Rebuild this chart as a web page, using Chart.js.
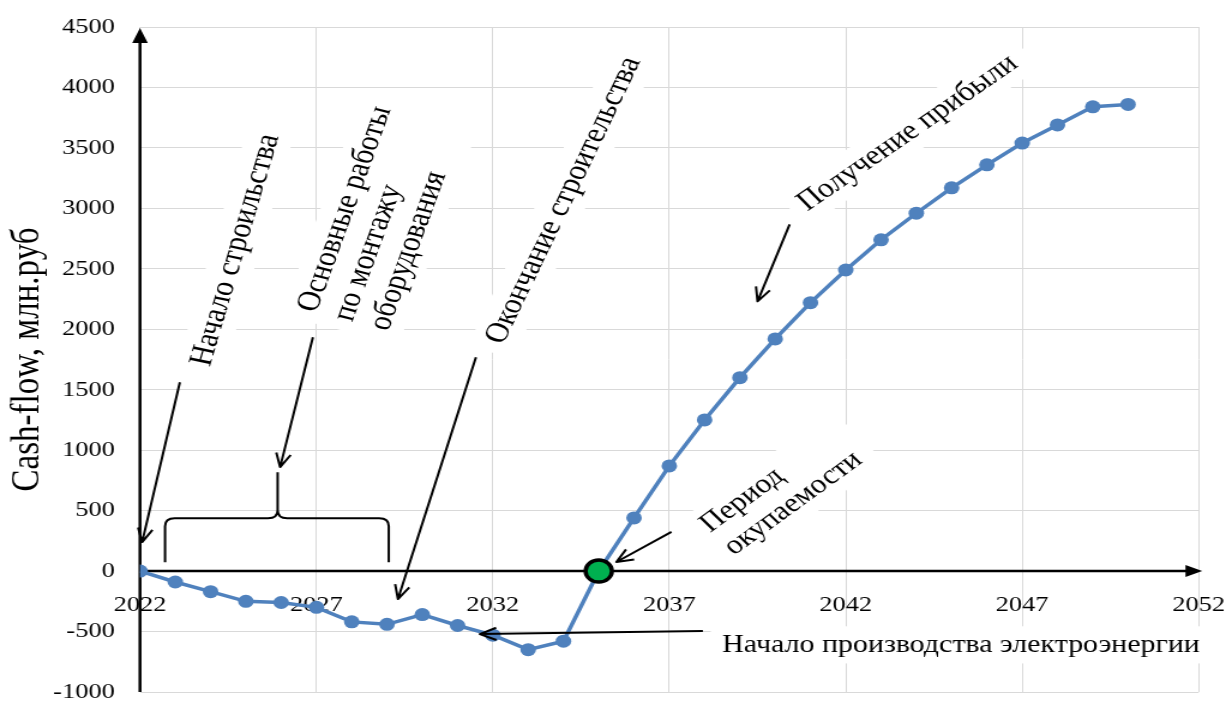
<!DOCTYPE html>
<html>
<head>
<meta charset="utf-8">
<script src="https://cdn.jsdelivr.net/npm/chart.js@4.4.0/dist/chart.umd.min.js"></script>
<style>
  html, body { margin: 0; padding: 0; background: #fff; overflow: hidden; }
  /* the figure is drawn narrow and widened as a whole */
  #wrap { width: 1027px; height: 702px; transform: scaleX(1.1996); transform-origin: 0 0; }
</style>
</head>
<body>
<div id="wrap"><canvas id="graphic" width="1027" height="702"></canvas></div>
<script>
var years = [2022, 2023, 2024, 2025, 2026, 2027, 2028, 2029, 2030, 2031,
             2032, 2033, 2034, 2035, 2036, 2037, 2038, 2039, 2040, 2041,
             2042, 2043, 2044, 2045, 2046, 2047, 2048, 2049, 2050];
var cashFlow = [0, -90, -170, -250, -260, -300, -420, -440, -360, -450,
                -530, -650, -580, 0, 440, 870, 1250, 1600, 1920, 2220,
                2490, 2740, 2960, 3170, 3360, 3540, 3690, 3840, 3860];
var paybackYear = [2035];
var paybackValue = [0];
var xTicks = [2022, 2027, 2032, 2037, 2042, 2047, 2052];
var yTicks = [-1000, -500, 0, 500, 1000, 1500, 2000, 2500, 3000, 3500, 4000, 4500];

var SERIF = "'Liberation Serif', 'Times New Roman', serif";

// captions: start of first line in data units, angle in degrees
var notes = [
    { lines: ['Начало строильства'], x: 2023.73, y: 1700, angle: 76, size: 28, sx: 1 },
    { lines: ['Основные работы', 'по монтажу', 'оборудования'], x: 2026.75, y: 2150, angle: 73, size: 28, sx: 1 },
    { lines: ['Окончание строительства'], x: 2032.05, y: 1890, angle: 68, size: 28, sx: 1 },
    { lines: ['Получение прибыли'], x: 2040.75, y: 3020, angle: 39.5, size: 28, sx: 0.94 },
    { lines: ['Период', 'окупаемости'], x: 2038.0, y: 360, angle: 41, size: 27, sx: 0.97 },
    { lines: ['Начало производства электроэнергии'], x: 2038.5, y: -610, angle: 0, size: 26, sx: 0.96 }
];

// pointer arrows: [fromX, fromY, toX, toY] in data units
var pointers = [
    [2023.13, 1562, 2022.06, 240],
    [2026.90, 1934, 2025.97, 860],
    [2031.52, 1768, 2029.31, -231],
    [2040.41, 2868, 2039.50, 2231],
    [2037.06, 325, 2035.50, 75],
    [2037.95, -496, 2031.63, -521]
];

// curly brace over the construction years
var brace = { left: 2022.71, right: 2029.05, mid: 2025.9, bar: 438, foot: 74, tip: 818 };

function arrowLine(ctx, x1, y1, x2, y2, head) {
    var a = Math.atan2(y2 - y1, x2 - x1);
    ctx.beginPath();
    ctx.moveTo(x1, y1);
    ctx.lineTo(x2, y2);
    ctx.moveTo(x2 - head * Math.cos(a - 0.42), y2 - head * Math.sin(a - 0.42));
    ctx.lineTo(x2, y2);
    ctx.lineTo(x2 - head * Math.cos(a + 0.42), y2 - head * Math.sin(a + 0.42));
    ctx.stroke();
}

var annotate = {
    id: 'annotate',
    beforeDatasetsDraw: function (chart) {
        var ctx = chart.ctx, xs = chart.scales.x, ys = chart.scales.y, area = chart.chartArea;
        ctx.save();
        notes.forEach(function (n) {
            var lh = n.size * 1.12;
            ctx.save();
            ctx.translate(xs.getPixelForValue(n.x), ys.getPixelForValue(n.y));
            ctx.rotate(-n.angle * Math.PI / 180);
            ctx.scale(n.sx, 1);
            ctx.font = n.size + 'px ' + SERIF;
            var w = Math.max.apply(null, n.lines.map(function (t) { return ctx.measureText(t).width; }));
            ctx.fillStyle = '#fff';
            ctx.fillRect(-10, -lh / 2 - 4, w + 24, lh * n.lines.length + 8);
            ctx.fillStyle = '#000';
            ctx.textAlign = 'left';
            ctx.textBaseline = 'middle';
            n.lines.forEach(function (t, i) { ctx.fillText(t, 0, i * lh); });
            ctx.restore();
        });

        // axes with arrowheads
        var x0 = xs.getPixelForValue(2022), y0 = ys.getPixelForValue(0);
        ctx.strokeStyle = '#000';
        ctx.fillStyle = '#000';
        ctx.lineWidth = 2.5;
        ctx.beginPath();
        ctx.moveTo(x0, area.bottom);
        ctx.lineTo(x0, area.top + 12);
        ctx.moveTo(x0, y0);
        ctx.lineTo(area.right - 10, y0);
        ctx.stroke();
        ctx.beginPath();
        ctx.moveTo(x0, area.top + 1);
        ctx.lineTo(x0 - 6.5, area.top + 16);
        ctx.lineTo(x0 + 6.5, area.top + 16);
        ctx.closePath();
        ctx.moveTo(area.right + 3, y0);
        ctx.lineTo(area.right - 11, y0 - 6);
        ctx.lineTo(area.right - 11, y0 + 6);
        ctx.closePath();
        ctx.fill();
        ctx.restore();
    },
    afterDatasetsDraw: function (chart) {
        var ctx = chart.ctx, xs = chart.scales.x, ys = chart.scales.y;
        var px = function (v) { return xs.getPixelForValue(v); };
        var py = function (v) { return ys.getPixelForValue(v); };
        ctx.save();
        ctx.strokeStyle = '#000';
        ctx.lineWidth = 2;
        ctx.lineJoin = 'round';
        pointers.forEach(function (p) {
            arrowLine(ctx, px(p[0]), py(p[1]), px(p[2]), py(p[3]), 15);
        });

        var xl = px(brace.left), xr = px(brace.right), xc = px(brace.mid);
        var yb = py(brace.bar), yf = py(brace.foot), yt = py(brace.tip), r = 8;
        ctx.beginPath();
        ctx.moveTo(xl, yf);
        ctx.lineTo(xl, yb + r);
        ctx.quadraticCurveTo(xl, yb, xl + r, yb);
        ctx.lineTo(xc - r, yb);
        ctx.quadraticCurveTo(xc, yb, xc, yb - r);
        ctx.lineTo(xc, yt);
        ctx.moveTo(xc, yb - r);
        ctx.quadraticCurveTo(xc, yb, xc + r, yb);
        ctx.lineTo(xr - r, yb);
        ctx.quadraticCurveTo(xr, yb, xr, yb + r);
        ctx.lineTo(xr, yf);
        ctx.stroke();
        ctx.restore();
    }
};

var ctx = document.getElementById('graphic').getContext('2d');

var cashData = {
    datasets: [{
        label: 'Период окупаемости',
        data: paybackYear.map(function (y, i) { return { x: y, y: paybackValue[i] }; }),
        showLine: false,
        pointRadius: 11,
        pointBackgroundColor: '#00b050',
        pointBorderColor: '#000',
        pointBorderWidth: 3.5,
        order: 0
    }, {
        label: 'Cash-flow',
        data: years.map(function (y, i) { return { x: y, y: cashFlow[i] }; }),
        borderColor: '#4f81bd',
        backgroundColor: '#4f81bd',
        borderWidth: 3.5,
        pointRadius: 6.5,
        pointBorderWidth: 0,
        pointBackgroundColor: '#4f81bd',
        tension: 0,
        order: 1
    }]
};

var tickFont = { family: SERIF, size: 22 };

var cashOptions = {
    responsive: false,
    animation: false,
    devicePixelRatio: 1,
    layout: { autoPadding: false, padding: { left: 0, top: 27, right: 27.8, bottom: 10 } },
    plugins: { legend: { display: false }, tooltip: { enabled: false } },
    scales: {
        x: {
            type: 'linear',
            position: { y: 0 },
            min: 2022,
            max: 2052,
            afterBuildTicks: function (s) { s.ticks = xTicks.map(function (v) { return { value: v }; }); },
            afterFit: function (s) { s.paddingLeft = 0; s.paddingRight = 0; },
            grid: { color: '#d9d9d9', lineWidth: 1, drawTicks: false },
            border: { display: false },
            ticks: {
                padding: 21,
                font: tickFont,
                color: '#000',
                maxRotation: 0,
                autoSkip: false,
                callback: function (v) { return String(v); }
            }
        },
        y: {
            min: -1000,
            max: 4500,
            afterBuildTicks: function (s) { s.ticks = yTicks.map(function (v) { return { value: v }; }); },
            afterFit: function (s) { s.width = 116.7; s.paddingTop = 0; s.paddingBottom = 0; },
            grid: { color: '#d9d9d9', lineWidth: 1, drawTicks: false },
            border: { display: false },
            title: {
                display: true,
                text: 'Cash-flow, млн.руб',
                font: { family: SERIF, size: 33 },
                color: '#000',
                padding: { top: 4, bottom: 0 }
            },
            ticks: {
                padding: 21,
                font: tickFont,
                color: '#000',
                callback: function (v) { return String(v); }
            }
        }
    }
};

var graphic = new Chart(ctx, {
    type: 'line',
    data: cashData,
    options: cashOptions,
    plugins: [annotate]
});
</script>
</body>
</html>
